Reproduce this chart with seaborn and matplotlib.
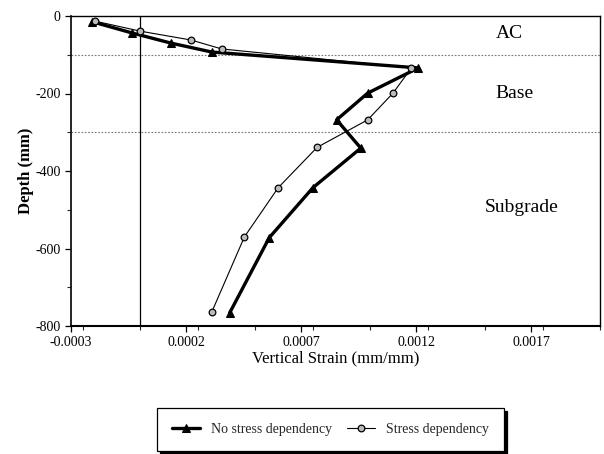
import matplotlib
matplotlib.use("Agg")
import matplotlib.pyplot as plt
import seaborn as sns
import pandas as pd
from matplotlib.ticker import MultipleLocator, FixedLocator

# ---- data ----
depth_no = [-15, -44, -70, -93, -134, -199, -268, -341, -443, -572, -766]
strain_no = [-0.000207, -0.000033, 0.000135, 0.000312, 0.00121, 0.00099, 0.000855, 0.00096, 0.000752, 0.000562, 0.00039]

depth_sd = [-13, -39, -62, -85, -134, -199, -268, -339, -443, -570, -764]
strain_sd = [-0.000197, 0.0, 0.000222, 0.000355, 0.00118, 0.00110, 0.00099, 0.00077, 0.000601, 0.000454, 0.000312]

series_names = ["No stress dependency", "Stress dependency"]
layer_names = ["AC", "Base", "Subgrade"]
layer_bounds = [-100, -300]
xtick_vals = [-0.0003, 0.0002, 0.0007, 0.0012, 0.0017]
ytick_vals = [0, -200, -400, -600, -800]

df = pd.concat([
    pd.DataFrame({"strain": strain_no, "depth": depth_no, "series": series_names[0]}),
    pd.DataFrame({"strain": strain_sd, "depth": depth_sd, "series": series_names[1]}),
])

sns.set_theme(style="white")
plt.rcParams["font.family"] = ["Liberation Serif", "DejaVu Serif"]

fig = plt.figure(figsize=(6.04, 4.54), dpi=100)
ax = fig.add_axes([71/604, 1-326/454, (600-71)/604, (326-16)/454])

# layer boundaries
for b in layer_bounds:
    ax.axhline(b, color="#777777", lw=0.8, ls=(0, (1.5, 1.5)), zorder=1)
ax.axvline(0.0, color="black", lw=0.9, zorder=1)

sub0 = df[df.series == series_names[0]]
sub1 = df[df.series == series_names[1]]
sns.lineplot(data=sub0, x="strain", y="depth", sort=False, estimator=None, ax=ax,
             color="black", lw=2.4, marker="^", markersize=5.5, markeredgecolor="black",
             markerfacecolor="black", label=series_names[0], zorder=3)
sns.lineplot(data=sub1, x="strain", y="depth", sort=False, estimator=None, ax=ax,
             color="black", lw=0.8, marker="o", markersize=4.8, markeredgecolor="black",
             markerfacecolor="#bbbbbb", markeredgewidth=0.9, label=series_names[1], zorder=4)

ax.set_xlim(-0.0003, 0.002)
ax.set_ylim(-800, 0)
ax.xaxis.set_major_locator(FixedLocator(xtick_vals))
ax.xaxis.set_minor_locator(MultipleLocator(0.00025))
ax.yaxis.set_major_locator(FixedLocator(ytick_vals))
ax.yaxis.set_minor_locator(MultipleLocator(100))
ax.set_xticklabels([f"{v:.4f}" for v in xtick_vals])
ax.set_yticklabels([f"{v:d}" for v in ytick_vals])
ax.tick_params(axis="both", which="major", direction="out", length=4, width=0.9,
               labelsize=10, colors="black", bottom=True, left=True)
ax.tick_params(axis="both", which="minor", direction="out", length=3, width=0.8,
               bottom=True, left=True)
for s in ax.spines.values():
    s.set_color("black")
    s.set_linewidth(1.0)
ax.spines["bottom"].set_linewidth(1.5)
ax.spines["left"].set_linewidth(1.2)

ax.set_xlabel("Vertical Strain (mm/mm)", fontsize=12, color="black", labelpad=1)
ax.set_ylabel("Depth (mm)", fontsize=12, color="black", fontweight="bold", labelpad=1)

ax.text(0.001605, -44, layer_names[0], fontsize=14, ha="center", va="center", color="black")
ax.text(0.00163, -199, layer_names[1], fontsize=14, ha="center", va="center", color="black")
ax.text(0.00166, -495, layer_names[2], fontsize=14, ha="center", va="center", color="black")

ax.get_legend().remove()
handles, labels = ax.get_legend_handles_labels()
leg = fig.legend(handles, labels, loc="upper left",
                 bbox_to_anchor=(157/604, 1-408/454),
                 ncol=2, fontsize=10, frameon=True, fancybox=False, edgecolor="black",
                 shadow={"color": "black", "alpha": 1.0}, borderpad=1.08, borderaxespad=0.0,
                 handlelength=2.0, handletextpad=0.8, columnspacing=1.1)
leg.get_frame().set_linewidth(0.9)

fig.savefig("out.png", dpi=100)
